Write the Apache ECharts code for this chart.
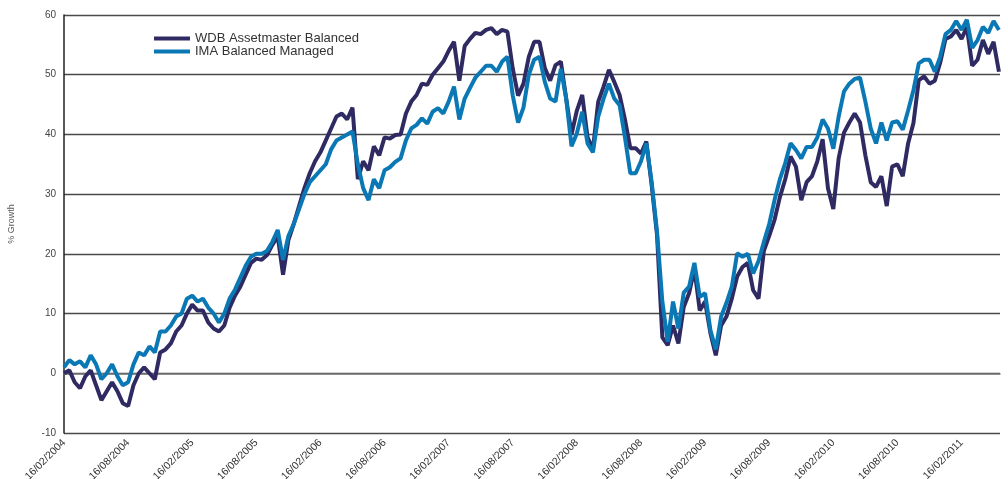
<!DOCTYPE html>
<html><head><meta charset="utf-8">
<script src="https://cdn.jsdelivr.net/npm/echarts/dist/echarts.min.js"></script>
<style>html,body{margin:0;padding:0;background:#fff}#c{width:1008px;height:479px}</style>
</head><body><div id="c"></div>
<script>
const seriesNames = ['WDB Assetmaster Balanced', 'IMA Balanced Managed'];
const tickLabels = ['16/02/2004','16/08/2004','16/02/2005','16/08/2005','16/02/2006','16/08/2006','16/02/2007','16/08/2007','16/02/2008','16/08/2008','16/02/2009','16/08/2009','16/02/2010','16/08/2010','16/02/2011'];
const monthsPerTick = 6;
const stepMonths = 0.5;   // half-monthly readings starting 16/02/2004
const wdb = [
  0,0.5,-1.5,-2.5,-0.5,0.5,-2,-4.5,-3,-1.5,-3,-5,
  -5.5,-2,0,1,0,-1,3.5,4,5,7,8,10,
  11.5,10.5,10.5,8.5,7.5,7,8,11,13,14.5,16.5,18.5,
  19.2,19,19.8,21.5,23,16.5,22.3,25,28,31,33.5,35.5,
  37,39,41,43,43.5,42.5,44.5,32.5,35.5,34,38,36.5,
  39.5,39.3,39.9,40,43.5,45.5,46.6,48.5,48.3,50,51.1,52.2,
  54,55.5,49,54.8,56,57,56.8,57.5,57.8,56.8,57.5,57.2,
  51,46.5,48.5,53,55.5,55.5,51.1,49,51.6,52.2,46,40,
  44,46.6,39.5,37.5,45.5,48,50.8,48.8,46.6,42.5,37.7,37.7,
  36.8,38.8,31.5,23.2,6,4.7,8,5,11.1,13.4,17.5,10.5,
  12,6.7,3,8,9.5,12.5,16.2,17.8,18.5,13.9,12.5,20.5,
  23,25.7,29.5,32.5,36.3,34.6,29,32,33,35.5,39.2,31,
  27.5,36,40.3,42,43.5,42,36.5,32,31.2,33,28,34.6,
  35,33,38.5,41.9,49.1,49.7,48.5,49,52,56,56.4,57.5,
  56,58,51.5,52.5,55.8,53.5,55.5,50.5
];
const ima = [
  1,2.2,1.5,2,1,3,1.5,-1,0,1.5,-0.5,-2,
  -1.5,1.5,3.5,3,4.5,3.5,7,7,8,9.5,10,12.5,
  13,12,12.5,11,10,8.5,10,12.5,14,16,18,19.5,
  20,20,20.5,22,24,19,23,25,27.5,30,32,33,
  34,35,37.5,39,39.5,40,40.5,35,31,29,32.5,31,
  34,34.5,35.4,36,39,41,41.6,42.7,41.8,43.8,44.4,43.5,
  45.5,48,42.5,46,47.8,49.5,50.5,51.5,51.5,50.5,52.2,53,
  46.5,42,44.5,50,52.5,53,48.8,46,45.5,51,46,38,
  40.2,43.8,38.5,37,43,46,48.5,46,44.9,39.5,33.5,33.5,
  35.5,38.5,32,23.7,12,5.3,12,7.5,13.5,14.5,18.5,12.8,
  13.4,7.2,4,9.5,11.8,14.5,20.1,19.5,20,16.7,18.8,22,
  25,29,32.5,35.2,38.5,37.4,36,37.9,37.9,39.5,42.5,41,
  37.6,43,47.2,48.5,49.3,49.5,45.5,41,38.5,42,39,42,
  42.2,40.8,44,47.4,51.9,52.5,52.5,50.5,53,56.8,57.5,59,
  57.5,59.2,54.5,55.8,58,57,59,57.5
];
const colors = ['#2f2a62', '#0a78b4'];

const toPairs = arr => arr.map((v, i) => [i * stepMonths, v]);
const chart = echarts.init(document.getElementById('c'), null, {renderer: 'canvas'});
const font = 'Liberation Sans, Arial, sans-serif';
chart.setOption({
  animation: false,
  backgroundColor: '#fff',
  textStyle: {fontFamily: font},
  grid: {left: 64, right: 8, top: 15, bottom: 46, containLabel: false, outerBoundsMode: 'none'},
  legend: {
    data: seriesNames,
    orient: 'vertical',
    left: 149, top: 27,
    itemWidth: 36, itemHeight: 4, itemGap: 0,
    icon: 'rect',
    textStyle: {fontSize: 13, color: '#333', fontFamily: font, lineHeight: 12}
  },
  xAxis: {
    type: 'value',
    min: 0, max: 87.6, interval: monthsPerTick,
    axisLine: {show: true, lineStyle: {color: '#777', width: 1.5}},
    axisTick: {show: false},
    splitLine: {show: false},
    axisLabel: {
      rotate: 45, fontSize: 10.5, color: '#333', margin: 8,
      showMaxLabel: false,
      formatter: v => {
        const i = Math.round(v / monthsPerTick);
        return (Math.abs(v - i * monthsPerTick) < 1e-6 && i < tickLabels.length) ? tickLabels[i] : '';
      }
    }
  },
  yAxis: {
    type: 'value',
    min: -10, max: 60, interval: 10,
    name: '% Growth', nameLocation: 'middle', nameGap: 48, nameRotate: 90,
    nameTextStyle: {fontSize: 9, color: '#555'},
    axisLine: {show: true, lineStyle: {color: '#222', width: 1.5}},
    axisTick: {show: false},
    axisLabel: {fontSize: 10, color: '#444', margin: 8},
    splitLine: {show: true, lineStyle: {color: '#4a4a4a', width: 1.3}}
  },
  series: [
    {name: seriesNames[0], type: 'line', data: toPairs(wdb), showSymbol: false,
     lineStyle: {width: 4, color: colors[0]}, itemStyle: {color: colors[0]}},
    {name: seriesNames[1], type: 'line', data: toPairs(ima), showSymbol: false,
     lineStyle: {width: 4, color: colors[1]}, itemStyle: {color: colors[1]}}
  ]
});
</script></body></html>
